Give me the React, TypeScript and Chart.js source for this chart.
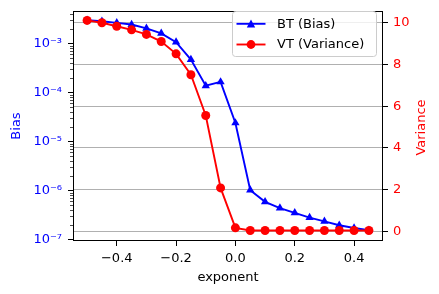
import React, { useEffect, useRef } from 'react';
import { Chart, registerables } from 'chart.js';
Chart.register(...registerables);

const exponent = [-0.5, -0.45, -0.4, -0.35, -0.3, -0.25, -0.2, -0.15, -0.1, -0.05, 0, 0.05, 0.1, 0.15, 0.2, 0.25, 0.3, 0.35, 0.4, 0.45];
const bias = [3.0e-3, 2.85e-3, 2.65e-3, 2.45e-3, 2.05e-3, 1.62e-3, 1.07e-3, 4.7e-4, 1.38e-4, 1.65e-4, 2.4e-5, 1.02e-6, 5.9e-7, 4.4e-7, 3.5e-7, 2.8e-7, 2.36e-7, 1.96e-7, 1.72e-7, 1.55e-7];
const variance = [10.1, 9.99, 9.82, 9.65, 9.43, 9.09, 8.5, 7.5, 5.55, 2.09, 0.18, 0.05, 0.05, 0.05, 0.05, 0.05, 0.05, 0.05, 0.05, 0.05];
const xTicks = [-0.4, -0.2, 0, 0.2, 0.4];
const biasTicks = [1e-7, 1e-6, 1e-5, 1e-4, 1e-3];
const varianceTicks = [0, 2, 4, 6, 8, 10];
const seriesLabels = ['BT (Bias)', 'VT (Variance)'];
const axisTitles = { x: 'exponent', y: 'Bias', y1: 'Variance' };

const BLUE = '#0000ff';
const RED = '#ff0000';
const LINE_W = 1.9;
const FONT = { family: '"DejaVu Sans", sans-serif', size: 13 };
const SUP: Record<string, string> = { '-': '\u207B', '0': '\u2070', '1': '\u00B9', '2': '\u00B2', '3': '\u00B3', '4': '\u2074', '5': '\u2075', '6': '\u2076', '7': '\u2077', '8': '\u2078', '9': '\u2079' };
const sup = (s: string) => s.split('').map((c) => SUP[c] ?? c).join('');

const decorPlugin = {
  id: 'decor',
  afterDraw(chart: any) {
    const ctx = chart.ctx;
    const a = chart.chartArea;
    const ys = chart.scales.y;
    ctx.save();
    // minor ticks on log axis
    ctx.strokeStyle = '#000';
    ctx.lineWidth = 0.7;
    for (let k = -9; k <= -2; k++) {
      for (let m = 2; m <= 9; m++) {
        const v = m * Math.pow(10, k);
        if (v < ys.min || v > ys.max) continue;
        const py = Math.round(ys.getPixelForValue(v)) + 0.5;
        ctx.beginPath();
        ctx.moveTo(a.left - 3, py);
        ctx.lineTo(a.left, py);
        ctx.stroke();
      }
    }
    // frame
    ctx.lineWidth = 1;
    ctx.strokeStyle = '#000';
    ctx.strokeRect(a.left + 0.5, a.top + 0.5, a.right - a.left - 1, a.bottom - a.top - 1);
    // right axis title (reads bottom to top)
    ctx.save();
    ctx.translate(421.7, (a.top + a.bottom) / 2 + 1.5);
    ctx.rotate(-Math.PI / 2);
    ctx.fillStyle = RED;
    ctx.font = `${FONT.size}px ${FONT.family}`;
    ctx.textAlign = 'center';
    ctx.textBaseline = 'middle';
    ctx.fillText(axisTitles.y1, 0, 0);
    ctx.restore();
    // legend
    const lx = a.right - 150.5;
    const ly = a.top + 0.5;
    const lw = 144;
    const lh = 45;
    ctx.beginPath();
    ctx.roundRect(lx, ly, lw, lh, 3);
    ctx.fillStyle = 'rgba(255,255,255,0.8)';
    ctx.fill();
    ctx.strokeStyle = '#cccccc';
    ctx.lineWidth = 1;
    ctx.stroke();
    const rows = [
      { label: seriesLabels[0], color: BLUE, style: 'triangle', y: ly + 12.3 },
      { label: seriesLabels[1], color: RED, style: 'circle', y: ly + 33 },
    ];
    rows.forEach((r) => {
      ctx.strokeStyle = r.color;
      ctx.lineWidth = LINE_W;
      ctx.beginPath();
      ctx.moveTo(lx + 4, r.y);
      ctx.lineTo(lx + 33, r.y);
      ctx.stroke();
      ctx.fillStyle = r.color;
      ctx.beginPath();
      const cx = lx + 18.5;
      if (r.style === 'circle') {
        ctx.arc(cx, r.y, 4.4, 0, Math.PI * 2);
      } else {
        ctx.moveTo(cx, r.y - 4.4);
        ctx.lineTo(cx - 4.2, r.y + 3.6);
        ctx.lineTo(cx + 4.2, r.y + 3.6);
        ctx.closePath();
      }
      ctx.fill();
      ctx.fillStyle = '#000';
      ctx.font = `${FONT.size}px ${FONT.family}`;
      ctx.textBaseline = 'middle';
      ctx.textAlign = 'left';
      ctx.fillText(r.label, lx + 44.5, r.y + 0.5);
    });
    ctx.restore();
  },
};

const zeroPad = (s: any) => { s.paddingTop = 0; s.paddingBottom = 0; s.paddingLeft = 0; s.paddingRight = 0; };

export default function App() {
  const ref = useRef<HTMLCanvasElement | null>(null);
  useEffect(() => {
    document.body.style.margin = '0';
    const canvas = ref.current;
    if (!canvas) return;
    const chart = new Chart(canvas, {
      type: 'line',
      data: {
        labels: exponent,
        datasets: [
          {
            label: seriesLabels[0],
            data: exponent.map((x, i) => ({ x, y: bias[i] })),
            yAxisID: 'y',
            borderColor: BLUE,
            backgroundColor: BLUE,
            borderWidth: LINE_W,
            pointStyle: 'triangle',
            pointRadius: 4.8,
            pointBorderWidth: 0,
            tension: 0,
            order: 2,
          },
          {
            label: seriesLabels[1],
            data: exponent.map((x, i) => ({ x, y: variance[i] })),
            yAxisID: 'y1',
            borderColor: RED,
            backgroundColor: RED,
            borderWidth: LINE_W,
            pointStyle: 'circle',
            pointRadius: 4.5,
            pointBorderWidth: 0,
            tension: 0,
            order: 1,
          },
        ],
      },
      options: {
        responsive: false,
        animation: false,
        devicePixelRatio: 1,
        layout: { padding: { top: 11, left: 0, right: 0, bottom: 0 } },
        plugins: { legend: { display: false }, tooltip: { enabled: false } },
        scales: {
          x: {
            type: 'linear',
            min: -0.5475,
            max: 0.4975,
            afterBuildTicks: (s: any) => { s.ticks = xTicks.map((v) => ({ value: v })); },
            afterFit: (s: any) => { s.height = 53; zeroPad(s); },
            ticks: {
              autoSkip: false,
              maxRotation: 0,
              color: '#000',
              font: FONT,
              padding: 5,
              callback: (v: any) => Number(v).toFixed(1).replace('-', '\u2212'),
            },
            grid: { drawOnChartArea: false, drawTicks: true, tickLength: 5, tickColor: '#000', tickWidth: 1 },
            border: { display: false },
            title: { display: true, text: axisTitles.x, color: '#000', font: FONT, padding: { top: 0, bottom: 9 } },
          },
          y: {
            type: 'logarithmic',
            position: 'left',
            min: Math.pow(10, -7.029),
            max: Math.pow(10, -2.335),
            afterBuildTicks: (s: any) => { s.ticks = biasTicks.map((v) => ({ value: v })); },
            afterFit: (s: any) => { s.width = 73; zeroPad(s); },
            ticks: {
              autoSkip: false,
              color: BLUE,
              font: FONT,
              padding: 6,
              callback: (v: any) => '10' + sup(String(Math.round(Math.log10(Number(v))))),
            },
            grid: { drawOnChartArea: false, drawTicks: true, tickLength: 5, tickColor: '#000', tickWidth: 1 },
            border: { display: false },
            title: { display: true, text: axisTitles.y, color: BLUE, font: FONT, padding: { top: 8.5, bottom: 0 } },
          },
          y1: {
            type: 'linear',
            position: 'right',
            min: -0.45,
            max: 10.55,
            afterBuildTicks: (s: any) => { s.ticks = varianceTicks.map((v) => ({ value: v })); },
            afterFit: (s: any) => { s.width = 56; zeroPad(s); },
            ticks: { autoSkip: false, color: RED, font: FONT, padding: 5 },
            grid: { drawOnChartArea: true, color: '#b0b0b0', lineWidth: 1, drawTicks: true, tickLength: 5, tickColor: '#000', tickWidth: 1 },
            border: { display: false },
            title: { display: false },
          },
        },
      },
      plugins: [decorPlugin],
    });
    return () => chart.destroy();
  }, []);
  return (
    <div style={{ width: 439, height: 294 }}>
      <canvas ref={ref} width={439} height={294} style={{ display: 'block', width: 439, height: 294 }} />
    </div>
  );
}
